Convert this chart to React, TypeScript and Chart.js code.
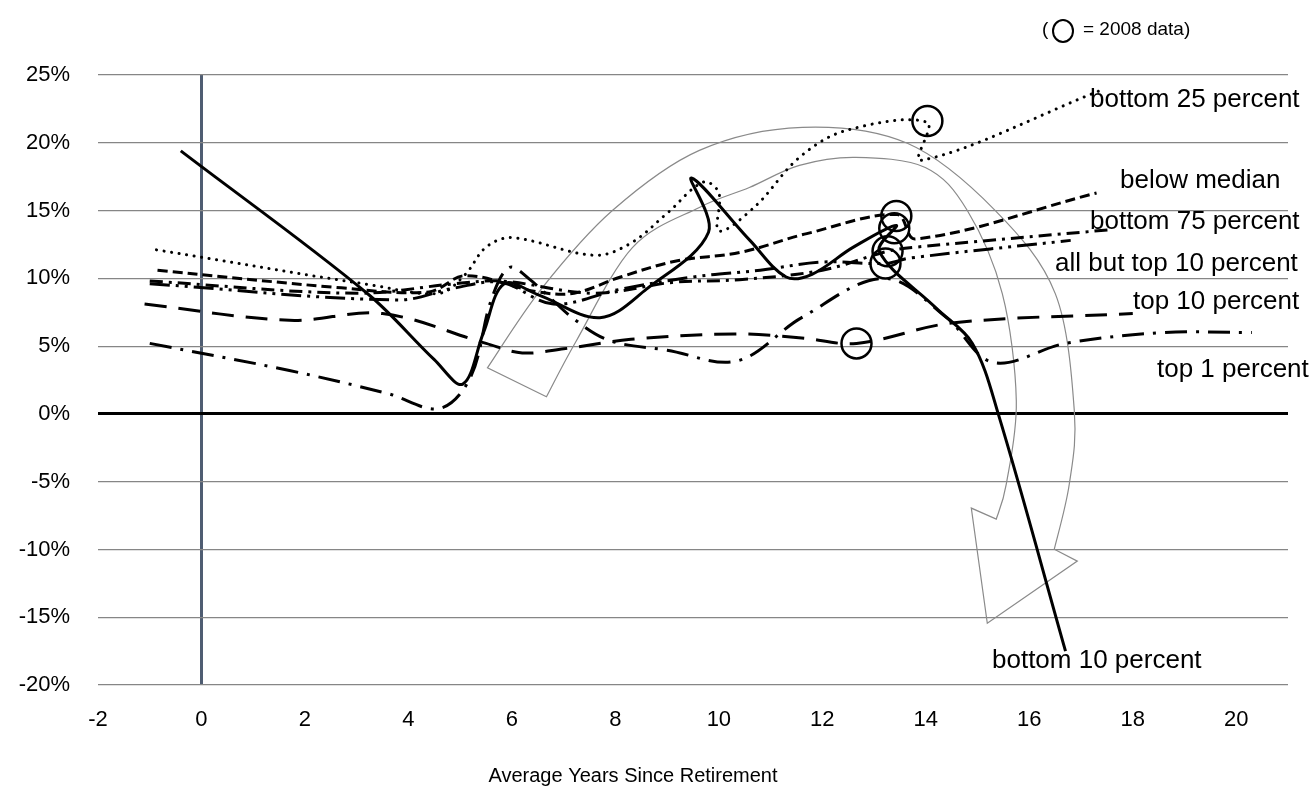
import React, { useEffect, useRef } from 'react';
import { Chart, registerables } from 'chart.js';

Chart.register(...registerables);

const FONT = "'Liberation Sans', Arial, sans-serif";

// Axis ticks
const xTicks = [-2, 0, 2, 4, 6, 8, 10, 12, 14, 16, 18, 20];
const yTicks = [-20, -15, -10, -5, 0, 5, 10, 15, 20, 25];

// Series (x = average years since retirement, y = percent)
const bottom10 = [[-0.4, 19.4], [3.2, 8.9], [4.5, 4.0], [5.05, 2.2], [5.45, 6.0], [5.85, 9.6], [6.5, 8.8], [7.7, 7.1], [8.6, 9.2], [9.8, 13.4], [9.47, 17.4], [10.6, 12.8], [11.3, 10.1], [11.8, 10.3], [12.6, 12.3], [13.43, 13.9], [13.1, 12.0], [14.2, 7.8], [14.9, 5.2], [15.4, 0.0], [16.7, -17.5]];
const bottom25 = [[-0.87, 12.1], [3.3, 9.5], [4.6, 8.9], [5.1, 10.3], [5.5, 12.3], [6.0, 13.0], [7.6, 11.7], [8.3, 12.6], [9.0, 14.8], [9.7, 17.1], [10.0, 16.3], [10.0, 13.5], [10.7, 15.3], [11.55, 18.9], [12.45, 20.9], [14.03, 21.5], [13.9, 18.7], [17.4, 23.9]];
const belowMedian = [[-0.85, 10.6], [2.7, 9.3], [4.4, 9.0], [5.1, 10.2], [6.5, 9.0], [7.2, 8.9], [8.1, 10.1], [9.2, 11.3], [10.4, 11.9], [11.7, 13.3], [13.45, 14.7], [13.8, 12.9], [17.3, 16.3]];
const bottom75 = [[-1.0, 9.8], [3.0, 8.9], [4.9, 9.6], [5.8, 9.8], [7.6, 8.9], [9.1, 9.7], [10.4, 9.9], [12.0, 10.6], [13.26, 12.0], [13.8, 12.3], [17.6, 13.6]];
const allButTop10 = [[-1.0, 9.6], [3.8, 8.4], [4.9, 9.3], [5.8, 9.7], [6.8, 8.1], [8.1, 9.2], [9.5, 10.1], [10.8, 10.6], [12.0, 11.2], [13.22, 11.1], [13.7, 11.5], [16.8, 12.8]];
const top10 = [[-1.1, 8.1], [1.7, 6.9], [3.5, 7.4], [5.5, 5.2], [6.2, 4.5], [7.0, 4.8], [8.3, 5.5], [10.3, 5.9], [11.6, 5.6], [12.66, 5.2], [14.5, 6.7], [18.0, 7.4]];
const top1 = [[-1.0, 5.2], [1.7, 3.2], [3.6, 1.5], [4.6, 0.4], [5.2, 2.7], [5.6, 8.4], [5.95, 10.8], [6.35, 9.9], [7.2, 7.0], [7.9, 5.4], [9.0, 4.7], [10.35, 3.9], [11.6, 7.1], [13.2, 10.0], [14.4, 7.1], [15.3, 3.8], [16.7, 5.2], [18.6, 6.0], [20.3, 6.0]];

// 2008 data markers
const circles2008 = [[13.43, 14.6], [13.39, 13.7], [13.26, 12.0], [13.22, 11.1], [12.66, 5.2], [14.03, 21.6]];

// Decorative curved arrow outline (data units)
const arrowOuter = [[5.527, 3.4], [6.589, 9.31], [7.942, 15.0], [9.623, 19.44], [11.614, 21.14], [13.643, 19.96], [15.343, 15.0], [16.502, 8.87], [16.87, 0.22], [16.773, -5.17], [16.483, -9.98]];
const arrowHead = [[16.928, -10.86], [15.188, -15.45], [14.879, -6.95]];
const arrowInner = [[15.362, -7.76], [15.556, -5.17], [15.749, 0.96], [15.478, 8.87], [14.802, 15.0], [13.99, 18.18], [12.638, 18.92], [11.556, 18.33], [10.589, 16.7], [9.623, 15.23], [8.329, 12.27], [7.246, 5.4], [6.667, 1.26]];

const seriesLabels = [
  { text: 'bottom 25 percent', x: 1090, y: 100 },
  { text: 'below median', x: 1120, y: 181 },
  { text: 'bottom 75 percent', x: 1090, y: 222 },
  { text: 'all but top 10 percent', x: 1055, y: 264 },
  { text: 'top 10 percent', x: 1133, y: 302 },
  { text: 'top 1 percent', x: 1157, y: 370 },
  { text: 'bottom 10 percent', x: 992, y: 661 },
];

const toXY = (arr: number[][]) => arr.map(([x, y]) => ({ x, y }));

function smooth(ctx: CanvasRenderingContext2D, pts: number[][], move: boolean) {
  if (move) ctx.moveTo(pts[0][0], pts[0][1]);
  else ctx.lineTo(pts[0][0], pts[0][1]);
  for (let i = 0; i < pts.length - 1; i++) {
    const p0 = pts[i - 1] || pts[i];
    const p1 = pts[i];
    const p2 = pts[i + 1];
    const p3 = pts[i + 2] || p2;
    ctx.bezierCurveTo(
      p1[0] + (p2[0] - p0[0]) / 6, p1[1] + (p2[1] - p0[1]) / 6,
      p2[0] - (p3[0] - p1[0]) / 6, p2[1] - (p3[1] - p1[1]) / 6,
      p2[0], p2[1]
    );
  }
}

const decorPlugin = {
  id: 'decor',
  beforeDatasetsDraw(chart: any) {
    const { ctx, scales } = chart;
    const px = (p: number[]) => [scales.x.getPixelForValue(p[0]), scales.y.getPixelForValue(p[1])];
    ctx.save();
    ctx.strokeStyle = '#8a8a8a';
    ctx.lineWidth = 1.2;
    ctx.beginPath();
    smooth(ctx, arrowOuter.map(px), true);
    arrowHead.map(px).forEach((p) => ctx.lineTo(p[0], p[1]));
    smooth(ctx, arrowInner.map(px), false);
    ctx.closePath();
    ctx.stroke();
    ctx.restore();
  },
  afterDraw(chart: any) {
    const { ctx } = chart;
    ctx.save();
    ctx.fillStyle = '#000';
    ctx.textBaseline = 'middle';
    ctx.textAlign = 'left';
    ctx.font = `26px ${FONT}`;
    seriesLabels.forEach((l) => ctx.fillText(l.text, l.x, l.y));
    ctx.font = `20px ${FONT}`;
    ctx.textAlign = 'center';
    ctx.fillText('Average Years Since Retirement', 633, 776);
    ctx.textAlign = 'left';
    ctx.font = `19px ${FONT}`;
    ctx.fillText('(', 1042, 30);
    ctx.fillText('= 2008 data)', 1083, 30);
    ctx.beginPath();
    ctx.strokeStyle = '#000';
    ctx.lineWidth = 2;
    ctx.ellipse(1063, 31, 10, 11, 0, 0, Math.PI * 2);
    ctx.stroke();
    ctx.restore();
  },
};

export default function App() {
  const ref = useRef<HTMLCanvasElement>(null);
  useEffect(() => {
    if (!ref.current) return;
    const lineDs = (label: string, data: number[][], dash: number[], cap: string = 'butt', width = 3) => ({
      label,
      data: toXY(data),
      showLine: true,
      borderColor: '#000',
      backgroundColor: '#000',
      borderWidth: width,
      borderDash: dash,
      borderCapStyle: cap,
      borderJoinStyle: 'round',
      tension: 0.35,
      pointRadius: 0,
      pointHoverRadius: 0,
      fill: false,
    });
    const chart = new Chart(ref.current, {
      type: 'scatter',
      data: {
        datasets: [
          lineDs('top 1 percent', top1, [22, 9, 3, 9]),
          lineDs('top 10 percent', top10, [22, 12]),
          lineDs('all but top 10 percent', allButTop10, [20, 6, 3, 6, 3, 6]),
          lineDs('bottom 75 percent', bottom75, [13, 6, 3, 6]),
          lineDs('below median', belowMedian, [10, 5]),
          lineDs('bottom 25 percent', bottom25, [0.1, 7.5], 'round', 3),
          lineDs('bottom 10 percent', bottom10, [], 'butt', 3),
          {
            label: '2008 data',
            data: toXY(circles2008),
            showLine: false,
            pointStyle: 'circle',
            pointRadius: 15,
            pointHoverRadius: 15,
            pointBorderWidth: 2.5,
            pointBorderColor: '#000',
            pointBackgroundColor: 'rgba(0,0,0,0)',
          } as any,
        ],
      },
      options: {
        responsive: false,
        animation: false,
        events: [],
        layout: { padding: { top: 75, right: 28, left: 0, bottom: 0 } },
        plugins: { legend: { display: false }, tooltip: { enabled: false }, title: { display: false } },
        scales: {
          x: {
            type: 'linear',
            min: -2,
            max: 21,
            afterBuildTicks: (s: any) => { s.ticks = xTicks.map((v) => ({ value: v })); },
            afterFit: (s: any) => { s.height = 110; },
            border: { display: false },
            grid: {
              drawTicks: false,
              color: (c: any) => (c.tick && c.tick.value === 0 ? '#4f5d72' : 'rgba(0,0,0,0)'),
              lineWidth: 3,
            },
            ticks: {
              autoSkip: false,
              maxRotation: 0,
              padding: 22,
              color: '#000',
              font: { family: FONT, size: 22 },
              callback: (v: any) => String(v),
            },
          },
          y: {
            type: 'linear',
            min: -20,
            max: 25,
            afterBuildTicks: (s: any) => { s.ticks = yTicks.map((v) => ({ value: v })); },
            afterFit: (s: any) => { s.width = 98; },
            border: { display: false },
            grid: {
              drawTicks: false,
              color: (c: any) => (c.tick && c.tick.value === 0 ? '#000' : '#868686'),
              lineWidth: (c: any) => (c.tick && c.tick.value === 0 ? 3 : 1.2),
            },
            ticks: {
              autoSkip: false,
              padding: 28,
              color: '#000',
              font: { family: FONT, size: 22 },
              callback: (v: any) => `${v}%`,
            },
          },
        },
      } as any,
      plugins: [decorPlugin],
    });
    return () => chart.destroy();
  }, []);
  return (
    <div style={{ position: 'absolute', left: 0, top: 0, width: 1316, height: 795, background: '#fff' }}>
      <canvas ref={ref} width={1316} height={795} style={{ display: 'block' }} />
    </div>
  );
}
